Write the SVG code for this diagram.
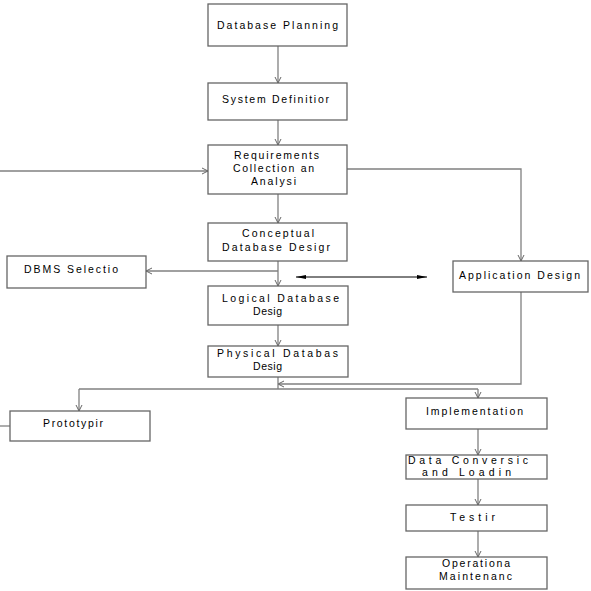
<svg xmlns="http://www.w3.org/2000/svg" width="591" height="591" viewBox="0 0 591 591">
<style>
.box{fill:#fff;stroke:#666;stroke-width:1.3}
.ln{fill:none;stroke:#808080;stroke-width:1.3}
.t{font-family:"Liberation Sans",Arial,sans-serif;font-size:10.5px;fill:#000}
</style>
<defs>
<marker id="a" viewBox="0 0 8 8" refX="7" refY="4" markerWidth="8" markerHeight="8" markerUnits="userSpaceOnUse" orient="auto">
<path d="M1,1 L7,4 L1,7" fill="none" stroke="#666" stroke-width="1"/>
</marker>
<marker id="f" viewBox="0 0 10 6" refX="10" refY="3" markerWidth="10" markerHeight="6" markerUnits="userSpaceOnUse" orient="auto-start-reverse">
<path d="M0,1 L10,3 L0,5 Z" fill="#000"/>
</marker>
</defs>
<rect width="591" height="591" fill="#fff"/>
<g id="connectors">
<path class="ln" d="M278,46 V83" marker-end="url(#a)"/>
<path class="ln" d="M278,120 V145" marker-end="url(#a)"/>
<path class="ln" d="M0,171 H208" marker-end="url(#a)"/>
<path class="ln" d="M347,169 H521 V261" marker-end="url(#a)"/>
<path class="ln" d="M278,194 V223" marker-end="url(#a)"/>
<path class="ln" d="M278,261 V286" marker-end="url(#a)"/>
<path class="ln" d="M278,271 H146" marker-end="url(#a)"/>
<path d="M296,277 H427" stroke="#000" stroke-width="1" marker-start="url(#f)" marker-end="url(#f)"/>
<path class="ln" d="M278,325 V346" marker-end="url(#a)"/>
<path class="ln" d="M521,292 V384 H278" marker-end="url(#a)"/>
<path class="ln" d="M278,377 V389"/>
<path class="ln" d="M79,389 H478"/>
<path class="ln" d="M79,389 V411" marker-end="url(#a)"/>
<path class="ln" d="M478,389 V398" marker-end="url(#a)"/>
<path class="ln" d="M0,426 H10"/>
<path class="ln" d="M478,429 V455" marker-end="url(#a)"/>
<path class="ln" d="M478,479 V505" marker-end="url(#a)"/>
<path class="ln" d="M478,531 V557" marker-end="url(#a)"/>
</g>
<g id="n1"><rect class="box" x="208" y="4" width="139" height="42"/><text class="t" x="217" y="29" textLength="121" lengthAdjust="spacing">Database Planning</text></g>
<g id="n2"><rect class="box" x="208" y="83" width="139" height="37"/><text class="t" x="222" y="103" textLength="107" lengthAdjust="spacing">System Definitior</text></g>
<g id="n3"><rect class="box" x="208" y="145" width="139" height="49"/>
<text class="t" x="234" y="159" textLength="85" lengthAdjust="spacing">Requirements</text>
<text class="t" x="233" y="172" textLength="81" lengthAdjust="spacing">Collection an</text>
<text class="t" x="251" y="185" textLength="45" lengthAdjust="spacing">Analysi</text></g>
<g id="n4"><rect class="box" x="208" y="223" width="139" height="38"/>
<text class="t" x="242" y="237" textLength="72" lengthAdjust="spacing">Conceptual</text>
<text class="t" x="222" y="251" textLength="108" lengthAdjust="spacing">Database Desigr</text></g>
<g id="n5"><rect class="box" x="7" y="256" width="139" height="32"/><text class="t" x="24" y="273" textLength="94" lengthAdjust="spacing">DBMS Selectio</text></g>
<g id="n6"><rect class="box" x="453" y="261" width="135" height="31"/><text class="t" x="459" y="279" textLength="121" lengthAdjust="spacing">Application Design</text></g>
<g id="n7"><rect class="box" x="208" y="286" width="140" height="39"/>
<text class="t" x="222" y="302" textLength="117" lengthAdjust="spacing">Logical Database</text>
<text class="t" x="253" y="315" textLength="29" lengthAdjust="spacing">Desig</text></g>
<g id="n8"><rect class="box" x="208" y="346" width="140" height="31"/>
<text class="t" x="217" y="357" textLength="121" lengthAdjust="spacing">Physical Databas</text>
<text class="t" x="253" y="370" textLength="29" lengthAdjust="spacing">Desig</text></g>
<g id="n9"><rect class="box" x="10" y="411" width="140" height="30"/><text class="t" x="43" y="427" textLength="60" lengthAdjust="spacing">Prototypir</text></g>
<g id="n10"><rect class="box" x="406" y="398" width="141" height="31"/><text class="t" x="426" y="415" textLength="97" lengthAdjust="spacing">Implementation</text></g>
<g id="n11"><rect class="box" x="406" y="455" width="141" height="24"/>
<text class="t" x="408" y="464" textLength="120" lengthAdjust="spacing">Data Conversic</text>
<text class="t" x="422" y="476" textLength="89" lengthAdjust="spacing">and Loadin</text></g>
<g id="n12"><rect class="box" x="406" y="505" width="141" height="26"/><text class="t" x="450" y="521" textLength="45" lengthAdjust="spacing">Testir</text></g>
<g id="n13"><rect class="box" x="406" y="557" width="141" height="32"/>
<text class="t" x="442" y="567" textLength="68" lengthAdjust="spacing">Operationa</text>
<text class="t" x="439" y="580" textLength="73" lengthAdjust="spacing">Maintenanc</text></g>
</svg>
